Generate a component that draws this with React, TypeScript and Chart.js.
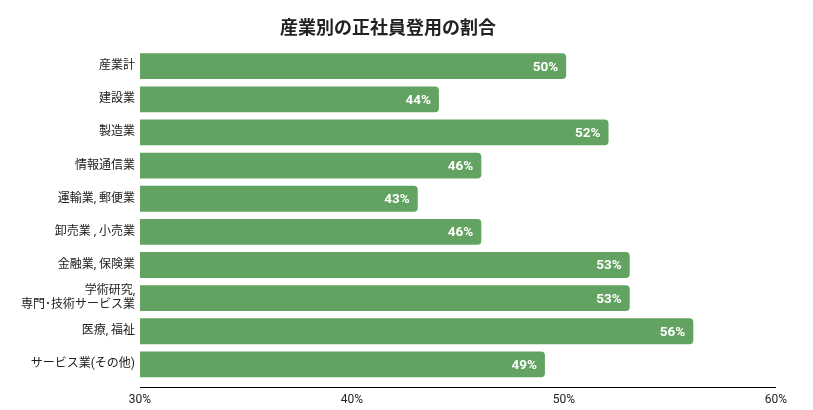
import { useEffect, useRef } from 'react'
import Chart from 'chart.js/auto'

const categories: (string | string[])[] = [
  '産業計',
  '建設業',
  '製造業',
  '情報通信業',
  '運輸業, 郵便業',
  '卸売業 , 小売業',
  '金融業, 保険業',
  ['学術研究,', '専門･技術サービス業'],
  '医療, 福祉',
  'サービス業(その他)',
]
const rates = [50.1, 44.1, 52.1, 46.1, 43.1, 46.1, 53.1, 53.1, 56.1, 49.1]
const axisMin = 30
const axisMax = 60
const axisStep = 10

const FONT = "Roboto, 'Noto Sans CJK JP', sans-serif"
const BAR_COLOR = '#62a362'

export default function App() {
  const canvasRef = useRef<HTMLCanvasElement>(null)

  useEffect(() => {
    document.body.style.margin = '0'
    if (!canvasRef.current) return

    // value labels inside bar ends
    const valueLabels = {
      id: 'valueLabels',
      afterDatasetsDraw(chart: any) {
        const { ctx } = chart
        const meta = chart.getDatasetMeta(0)
        ctx.save()
        ctx.fillStyle = '#fff'
        ctx.font = `bold 13.5px ${FONT}`
        ctx.textAlign = 'right'
        ctx.textBaseline = 'middle'
        meta.data.forEach((bar: any, i: number) => {
          ctx.fillText(`${Math.round(rates[i])}%`, bar.x - 8, bar.y + 1)
        })
        ctx.restore()
      },
    }

    // bottom axis line, a little below the last bar
    const axisLine = {
      id: 'axisLine',
      afterDraw(chart: any) {
        const { ctx, chartArea } = chart
        const y = Math.round(chartArea.bottom + 6) + 0.5
        ctx.save()
        ctx.strokeStyle = '#000'
        ctx.lineWidth = 1
        ctx.beginPath()
        ctx.moveTo(chartArea.left, y)
        ctx.lineTo(chartArea.right, y)
        ctx.stroke()
        ctx.restore()
      },
    }

    const chart = new Chart(canvasRef.current, {
      type: 'bar',
      data: {
        labels: categories,
        datasets: [
          {
            data: rates,
            backgroundColor: BAR_COLOR,
            borderRadius: 4,
            barPercentage: 0.78,
            categoryPercentage: 1,
          },
        ],
      },
      options: {
        indexAxis: 'y',
        responsive: true,
        maintainAspectRatio: false,
        animation: false,
        layout: { padding: { left: 0, right: 37, top: 0, bottom: 2 } },
        plugins: {
          legend: { display: false },
          tooltip: { enabled: false },
          title: {
            display: true,
            text: '産業別の正社員登用の割合',
            color: '#222',
            font: { family: FONT, size: 18, weight: 'bold' },
            padding: { top: 19, bottom: 9 },
          },
        },
        scales: {
          x: {
            min: axisMin,
            max: axisMax,
            grid: { display: false, drawTicks: false },
            border: { display: false },
            ticks: {
              stepSize: axisStep,
              padding: 12,
              color: '#222',
              font: { family: FONT, size: 12 },
              callback: (v: any) => `${v}%`,
            },
            afterFit(scale: any) {
              scale.height = 27
            },
          },
          y: {
            grid: { display: false, drawTicks: false },
            border: { display: false },
            ticks: {
              padding: 5,
              color: '#222',
              font: { family: FONT, size: 12 },
            },
            afterFit(scale: any) {
              scale.width = 140
            },
          },
        },
      },
      plugins: [valueLabels, axisLine],
    })

    return () => chart.destroy()
  }, [])

  return (
    <div style={{ width: 813, height: 410, position: 'relative' }}>
      <canvas ref={canvasRef} />
    </div>
  )
}
